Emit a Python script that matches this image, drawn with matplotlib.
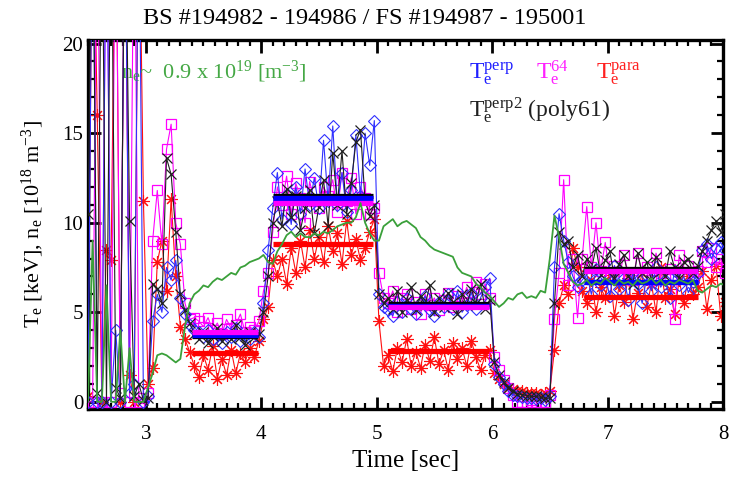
import numpy as np
import matplotlib
matplotlib.use("Agg")
import matplotlib.pyplot as plt
from matplotlib.ticker import MultipleLocator

plt.rcParams["font.family"] = ["Liberation Serif", "DejaVu Serif"]
plt.rcParams["mathtext.fontset"] = "custom"
plt.rcParams["mathtext.rm"] = "Liberation Serif"
plt.rcParams["mathtext.it"] = "Liberation Serif:italic"

# ── data: common sample times (s), 0.04 s apart ───────────────────────────
t = np.round(np.arange(2.50, 8.021, 0.04), 2)

te_perp = [
    0.0, 30.0, 0.0, 0.0, 30.0, 0.0, 4.0, 0.0, 30.0, 0.5, 1.0, 30.0, 0.0,
    0.3, 4.5, 6.0, 5.0, 7.5, 6.8, 7.9, 5.8, 4.9, 4.3,
    4.0, 3.9, 3.6, 4.0, 3.5, 3.8, 3.3, 3.9, 3.6, 4.1, 3.4, 3.7, 3.5, 3.9, 3.6,
    5.5, 8.5,
    10.8, 12.8, 10.2, 11.6, 9.9, 12.0, 10.5, 13.0, 11.0, 12.5, 10.8, 14.6,
    11.2, 15.4, 11.0, 12.8, 10.6, 11.8, 14.9, 11.5, 15.0, 13.2, 15.7,
    6.0, 5.3,
    5.1, 4.8, 5.6, 5.0, 5.8, 5.2, 4.9, 5.5, 5.9, 5.1, 4.8, 5.6, 5.3, 6.0, 5.2,
    6.2, 5.0, 5.4, 6.1, 5.2, 5.8, 6.4, 6.9,
    2.1, 1.4, 1.0, 0.6, 0.4, 0.3, 0.25, 0.2, 0.2, 0.15, 0.2, 0.1, 0.3,
    7.5, 10.5, 9.0, 7.8, 7.0, 6.4,
    6.8, 7.1, 6.0, 7.4, 6.5, 7.0, 5.9, 7.6, 6.3, 6.9, 5.7, 7.2, 6.6, 5.5,
    7.0, 6.2, 7.5, 6.4, 6.8, 5.8, 7.3, 6.5, 7.0, 6.1, 6.7, 7.2,
    8.5, 8.8, 8.0, 8.6, 8.9, 8.5,
]

te_64 = [
    0.0, 0.0, 30.0, 0.0, 30.0, 0.0, 30.0, 0.5, 30.0, 0.0, 30.0, 0.0, 0.2,
    0.5, 9.0, 11.8, 8.8, 14.1, 15.5, 10.0, 8.8, 5.5, 4.6,
    4.7, 4.5, 4.2, 4.7, 4.0, 4.4, 3.8, 4.6, 4.1, 4.3, 4.9, 3.9, 4.2, 4.0, 4.5,
    6.2, 7.2,
    9.5, 12.0, 11.0, 12.6, 10.5, 12.2, 11.4, 10.0, 12.3, 11.2, 10.8, 12.0,
    11.5, 12.4, 10.6, 12.8, 11.2, 12.5, 10.5, 12.0, 11.4, 10.5, 10.8,
    7.2, 5.8,
    5.5, 6.2, 5.0, 5.8, 6.0, 5.2, 5.6, 4.9, 6.0, 5.4, 5.8, 5.1, 5.7, 6.1, 5.3,
    5.9, 5.5, 6.4, 5.6, 6.7, 6.0, 6.6, 5.8,
    2.5, 1.8, 1.2, 0.8, 0.4, 0.0, 0.0, 0.0, 0.1, 0.0, 0.0, 0.0, 0.4,
    4.6, 7.2, 12.4, 6.5, 8.0, 4.7,
    8.0, 10.9, 7.5, 10.0, 7.3, 8.9, 7.0, 7.6, 6.9, 8.2, 7.2, 6.8, 8.3, 7.1,
    7.5, 6.8, 8.3, 7.2, 6.9, 7.4, 4.6, 8.2, 7.0, 7.6, 6.9, 7.3,
    8.4, 7.8, 8.6, 7.5, 8.0, 7.2,
]

te_para = [
    0.3, 30.0, 16.0, 0.0, 8.5, 7.9, 30.0, 0.0, 30.0, 1.5, 0.0, 30.0, 11.2,
    1.0, 1.9, 7.8, 9.0, 6.2, 11.3, 7.0, 4.2, 3.5, 2.8,
    2.0, 1.4, 2.6, 1.8, 3.1, 1.3, 2.4, 1.5, 2.9, 1.6, 2.7, 2.2, 3.0, 2.5, 3.4,
    4.6, 5.3,
    7.9, 7.0, 8.0, 6.6, 8.6, 7.2, 9.0, 7.5, 9.6, 8.0, 9.2, 7.8, 9.8, 8.4,
    9.4, 7.7, 10.1, 8.2, 9.1, 7.9, 8.6, 9.5, 10.2,
    4.5, 2.0,
    2.6, 1.7, 3.0, 2.2, 3.5, 2.0, 2.8, 1.9, 3.2, 2.3, 3.6, 2.1, 2.9, 1.8, 3.3,
    2.4, 3.0, 2.0, 3.4, 2.5, 1.8, 2.6, 2.9,
    1.6, 1.3, 1.0, 0.8, 0.7, 0.6, 0.6, 0.5, 0.5, 0.5, 0.4, 0.5, 0.6,
    2.9, 5.5, 6.5, 6.0, 8.6, 7.5,
    6.2, 5.5, 6.8, 5.0, 6.4, 5.8, 7.1, 4.8, 6.5, 5.6, 6.9, 4.6, 6.1, 7.2,
    5.3, 6.6, 5.0, 7.5, 5.8, 6.3, 4.9, 6.8, 5.5, 7.0, 6.0, 6.4,
    7.3, 5.2, 6.8, 7.6, 4.8, 5.6,
]

te_perp2 = [
    10.5, 30.0, 0.5, 30.0, 0.0, 30.0, 0.8, 0.2, 30.0, 10.1, 0.3, 1.0, 0.1,
    0.2, 6.6, 6.3, 5.5, 13.6, 12.7, 9.5, 6.0, 5.1, 4.4,
    3.8, 3.5, 3.9, 3.3, 3.7, 4.1, 3.4, 3.8, 3.5, 4.3, 3.6, 3.2, 3.9, 3.6, 3.8,
    5.0, 7.0,
    10.0, 11.2, 9.8, 11.9, 10.3, 11.5, 9.6, 10.8, 11.8, 9.4, 10.9, 12.4,
    9.8, 13.9, 11.0, 14.0, 10.5, 12.2, 14.5, 15.2, 11.2, 10.4, 11.0,
    6.0, 5.5,
    5.8, 5.2, 6.2, 5.0, 5.7, 6.4, 5.1, 5.9, 5.4, 6.5, 5.0, 5.8, 5.3, 6.1, 5.6,
    4.9, 6.0, 5.4, 6.3, 5.5, 6.6, 5.2, 5.7,
    2.2, 1.5, 1.1, 0.8, 0.6, 0.45, 0.4, 0.35, 0.3, 0.3, 0.25, 0.2, 0.2,
    5.5, 9.5, 8.8, 9.0, 7.5, 8.2,
    7.0, 8.0, 7.4, 8.6, 7.1, 7.9, 8.4, 6.9, 7.7, 8.2, 7.0, 6.6, 8.3, 7.2,
    7.8, 6.8, 8.1, 7.3, 7.0, 8.4, 7.5, 6.9, 7.8, 8.0, 7.2, 7.6,
    8.4, 9.0, 9.6, 10.1, 9.5, 10.5,
]

ne = [
    0.0, 9.0, 0.0, 0.0, 6.5, 0.0, 0.0, 4.0, 0.0, 3.0, 0.0, 0.0, 0.0,
    0.8, 1.6, 2.6, 2.7, 2.6, 2.4, 2.2, 2.4, 4.2, 5.5,
    6.0, 6.2, 6.5, 6.4, 6.7, 6.9, 6.8, 7.0, 7.2, 7.1, 7.5, 7.6, 7.8, 7.9, 8.0,
    8.2, 7.8,
    7.7, 8.4, 8.8, 9.3, 9.5, 9.2, 9.4, 9.2, 9.2, 9.4, 9.3, 9.5, 9.4, 9.6,
    9.8, 9.9, 10.0, 10.0, 10.3, 11.1, 10.0, 9.4, 9.0,
    9.0, 9.8,
    10.0, 10.2, 9.8, 10.0, 10.1, 9.9, 9.7, 9.2, 9.0, 8.7, 8.5, 8.4, 8.3, 8.2,
    8.1, 7.5, 7.2, 7.1, 7.0, 6.6, 6.4, 6.1, 5.9,
    5.6, 5.3, 5.5, 5.8, 5.7, 6.0, 6.1, 5.8, 5.9, 5.8, 6.2, 6.1, 8.0,
    10.4, 9.2, 7.7, 7.2, 6.7, 6.5,
    6.6, 6.8, 6.5, 6.7, 6.6, 6.9, 6.7, 6.5, 6.8, 6.6, 6.7, 6.5, 6.8, 6.6,
    6.7, 6.9, 6.6, 6.8, 6.5, 6.7, 6.6, 6.8, 6.7, 6.6, 6.8, 6.2,
    6.1, 6.3, 6.5, 6.4, 6.6, 6.5,
]

# segment averages: (t_start, t_end) and level per diagnostic
seg_start = [3.40, 4.10, 5.10, 6.80]
seg_end = [3.97, 4.97, 5.97, 7.78]
avg_perp2 = [3.70, 11.50, 5.45, 7.40]
avg_perp = [3.75, 11.40, 5.35, 6.70]
avg_64 = [3.90, 11.10, 5.30, 7.28]
avg_para = [2.70, 8.80, 2.85, 5.85]

BLUE = "#3030ff"
MAGENTA = "#ff00ff"
RED = "#ff1010"
GREEN = "#3aa03a"

# ── figure ────────────────────────────────────────────────────────────────
fig = plt.figure(figsize=(7.29, 4.79), dpi=100)
ax = fig.add_axes([88 / 729, 1 - 409 / 479, (723 - 88) / 729, (409 - 40) / 479])

ax.plot(t, te_para, color=RED, lw=0.8, marker=(8, 2, 0), ms=9, mew=0.8,
        mec=RED, zorder=2)
ax.plot(t, te_64, color=MAGENTA, lw=0.8, marker="s", ms=7, mfc="none",
        mew=0.9, zorder=3)
ax.plot(t, te_perp, color=BLUE, lw=0.8, marker="D", ms=6.5, mfc="none",
        mew=0.8, zorder=4)
ax.plot(t, te_perp2, color="#202020", lw=0.8, marker="x", ms=7, mew=0.9,
        zorder=5)

for i in range(len(seg_start)):
    xs = [seg_start[i], seg_end[i]]
    ax.plot(xs, [avg_para[i]] * 2, color="#ff0000", lw=3.8,
            solid_capstyle="butt", zorder=7)
    ax.plot(xs, [avg_perp2[i]] * 2, color="black", lw=3.8,
            solid_capstyle="butt", zorder=7)
    ax.plot(xs, [avg_perp[i]] * 2, color="#0000ff", lw=3.8,
            solid_capstyle="butt", zorder=8)
    ax.plot(xs, [avg_64[i]] * 2, color="#ff00ff", lw=3.8,
            solid_capstyle="butt", zorder=8)

ax.plot(t, ne, color=GREEN, lw=1.3, zorder=9)

ax.set_xlim(2.5, 8.0)
ax.set_ylim(-0.4, 20.2)
ax.xaxis.set_major_locator(MultipleLocator(1))
ax.xaxis.set_minor_locator(MultipleLocator(0.1))
ax.yaxis.set_major_locator(MultipleLocator(5))
ax.yaxis.set_minor_locator(MultipleLocator(1))
ax.tick_params(which="both", direction="in", top=True, right=True,
               labelsize=15, width=2.0)
ax.tick_params(axis="x", which="both", pad=11.5)
ax.tick_params(axis="y", which="both", pad=3.5)
ax.tick_params(which="major", length=9)
ax.tick_params(which="minor", length=4, width=1.6)
for s in ax.spines.values():
    s.set_linewidth(2.4)

fig.text(0.5, 1 - 18 / 479, "BS #194982 - 194986 / FS #194987 - 195001",
         ha="center", va="center", fontsize=17.5)
ax.set_xlabel("Time [sec]", fontsize=18, labelpad=4)
ax.set_ylabel(r"T$_\mathrm{e}$ [keV], n$_\mathrm{e}$ [10$^{18}$ m$^{-3}$]",
              fontsize=16, labelpad=12)

ax.text(0.052, 0.895, r"n$_\mathrm{e}$~  0.9 x 10$^{19}$ [m$^{-3}$]",
        transform=ax.transAxes, color="#45a845", fontsize=16)
ax.text(0.60, 0.895, r"T$_\mathrm{e}^\mathrm{perp}$", transform=ax.transAxes,
        color="#2020ff", fontsize=17)
ax.text(0.705, 0.895, r"T$_\mathrm{e}^\mathrm{64}$", transform=ax.transAxes,
        color="#ff20ff", fontsize=17)
ax.text(0.80, 0.895, r"T$_\mathrm{e}^\mathrm{para}$", transform=ax.transAxes,
        color="#ff2020", fontsize=17)
ax.text(0.60, 0.79, r"T$_\mathrm{e}^\mathrm{perp2}$ (poly61)",
        transform=ax.transAxes, color="#202020", fontsize=17)

fig.savefig("out.png", dpi=100)
